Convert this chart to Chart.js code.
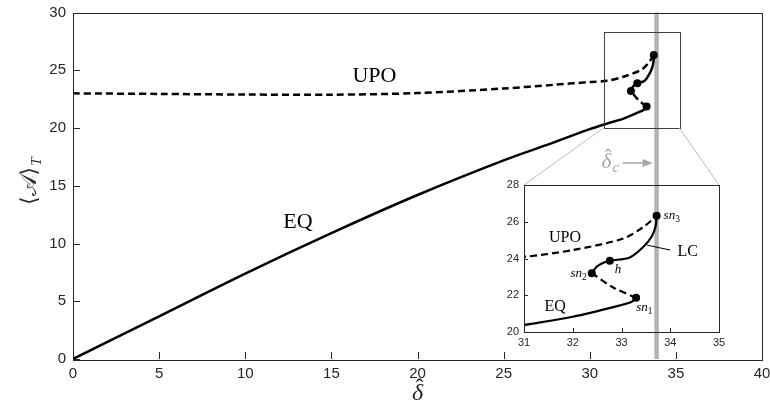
<!DOCTYPE html>
<html><head><meta charset="utf-8">
<script src="https://cdn.jsdelivr.net/npm/chart.js@4/dist/chart.umd.min.js"></script>
<style>
html,body{margin:0;padding:0;background:#fff;}
#wrap{position:relative;width:770px;height:411px;background:#fff;}
#main{position:absolute;left:0;top:0;width:770px;height:411px;}
#inset{position:absolute;left:480px;top:170px;width:260px;height:190px;z-index:2;}
</style></head><body>
<div id="wrap"><canvas id="main" width="770" height="411"></canvas><canvas id="inset" width="260" height="190"></canvas></div>
<script>
// ---------- data ----------
const eqStableX   = [0, 5, 10, 15, 20, 25, 28, 30, 31, 32, 33, 33.21, 33.30];
const eqStableY   = [0, 3.7, 7.4, 10.9, 14.2, 17.2, 18.8, 19.9, 20.38, 20.83, 21.47, 21.65, 21.86];
const eqUnstableX = [33.30, 32.83, 32.39];
const eqUnstableY = [21.86, 22.42, 23.2];
const lcX  = [32.39, 32.49, 32.63, 32.76, 33.17, 33.45, 33.62, 33.70, 33.72];
const lcY  = [23.2, 23.55, 23.77, 23.88, 24.06, 24.64, 25.2, 25.75, 26.32];
const upoX = [0, 5, 10, 15, 20, 25, 28, 30, 31, 32, 33.04, 33.45, 33.72];
const upoY = [23.0, 22.95, 22.9, 22.88, 23.02, 23.42, 23.75, 23.98, 24.09, 24.46, 25.09, 25.72, 26.32];
const bifNames = ['sn1', 'sn2', 'h', 'sn3'];
const bifX = [33.30, 32.39, 32.76, 33.72];
const bifY = [21.86, 23.2, 23.88, 26.32];
const deltaC = 33.72;
const mainXTicks = [0, 40, 5];   // min, max, step
const mainYTicks = [0, 30, 5];
const insetXTicks = [31, 35, 1];
const insetYTicks = [20, 28, 2];
const zoomWinX = [30.8, 35.2];
const zoomWinY = [20, 28.3];

// ---------- helpers ----------
const AX = '#262626';
const SANS = '"Liberation Sans", Arial, Helvetica, sans-serif';
const SERIF = '"Liberation Serif", "DejaVu Serif", "Times New Roman", serif';
const pts = (xs, ys) => xs.map((x, i) => ({x: x, y: ys[i]}));
function lineDs(xs, ys, dashed, w) {
  return {data: pts(xs, ys), showLine: true, borderColor: '#000', borderWidth: w,
    borderDash: dashed ? [7, 4] : [], pointRadius: 0, tension: 0.3, fill: false,
    borderCapStyle: 'butt'};
}
function dotDs(r) {
  return {data: pts(bifX, bifY), showLine: false, pointRadius: r, pointBackgroundColor: '#000',
    pointBorderColor: '#000', pointBorderWidth: 0};
}
function scaleCfg(t, size, pad, fit) {
  return {type: 'linear', min: t[0], max: t[1],
    ticks: {stepSize: t[2], color: AX, font: {family: SANS, size: size}, padding: pad, maxRotation: 0, autoSkip: false},
    grid: {display: false, drawTicks: false}, border: {display: false}, afterFit: fit};
}
function drawFrame(chart, len) {
  const c = chart.ctx, a = chart.chartArea;
  c.save();
  c.strokeStyle = AX; c.lineWidth = 1;
  c.strokeRect(Math.round(a.left) + 0.5, Math.round(a.top) + 0.5, Math.round(a.right - a.left), Math.round(a.bottom - a.top));
  c.beginPath();
  chart.scales.x.ticks.forEach(t => {
    const p = Math.round(chart.scales.x.getPixelForValue(t.value)) + 0.5;
    c.moveTo(p, a.bottom); c.lineTo(p, a.bottom - len);
  });
  chart.scales.y.ticks.forEach(t => {
    const p = Math.round(chart.scales.y.getPixelForValue(t.value)) + 0.5;
    c.moveTo(a.left, p); c.lineTo(a.left + len, p);
  });
  c.stroke();
  c.restore();
}
// delta with a hat drawn above it
function deltaHat(c, x, y, size) {
  c.font = 'italic ' + size + 'px ' + SERIF;
  c.textAlign = 'left';
  c.textBaseline = 'alphabetic';
  const w = c.measureText('\u03B4').width;
  c.fillText('\u03B4', x, y);
  c.font = size + 'px ' + SERIF;
  const hw = c.measureText('\u02C6').width;
  c.fillText('\u02C6', x + w / 2 - hw / 2 + size * 0.08, y - size * 0.2);
  return w;
}
function snLabel(c, base, sub, x, y, size, align) {
  c.save();
  c.fillStyle = '#000';
  c.textBaseline = 'middle';
  const f1 = 'italic ' + size + 'px ' + SERIF, f2 = (size * 0.72) + 'px ' + SERIF;
  c.font = f1; const w1 = c.measureText(base).width;
  c.font = f2; const w2 = sub ? c.measureText(sub).width : 0;
  let x0 = align === 'right' ? x - w1 - w2 : x;
  c.font = f1; c.fillText(base, x0, y);
  if (sub) { c.font = f2; c.fillText(sub, x0 + w1, y + size * 0.3); }
  c.restore();
}
const noPadX = h => s => { s.height = h; s.paddingLeft = 0; s.paddingRight = 0; };
const noPadY = w => s => { s.width = w; s.paddingTop = 0; s.paddingBottom = 0; };

// ---------- inset ----------
const insetDeco = {
  id: 'insetDeco',
  afterDraw(chart) {
    drawFrame(chart, 4);
    const c = chart.ctx, sx = chart.scales.x, sy = chart.scales.y;
    c.save();
    c.fillStyle = '#000';
    c.font = '16px ' + SERIF; c.textAlign = 'center'; c.textBaseline = 'middle';
    c.fillText('UPO', sx.getPixelForValue(31.84), sy.getPixelForValue(25.1));
    c.fillText('EQ', sx.getPixelForValue(31.64), sy.getPixelForValue(21.36));
    c.fillText('LC', sx.getPixelForValue(34.36), sy.getPixelForValue(24.35));
    c.strokeStyle = '#000'; c.lineWidth = 1;
    c.beginPath();
    c.moveTo(sx.getPixelForValue(33.52), sy.getPixelForValue(24.73));
    c.lineTo(sx.getPixelForValue(34.0), sy.getPixelForValue(24.46));
    c.stroke();
    c.restore();
    const P = i => [sx.getPixelForValue(bifX[i]), sy.getPixelForValue(bifY[i])];
    let p;
    p = P(0); snLabel(c, 'sn', '1', p[0], p[1] + 10, 13, 'left');
    p = P(1); snLabel(c, 'sn', '2', p[0] - 5, p[1], 13, 'right');
    p = P(2); snLabel(c, 'h', '', p[0] + 5, p[1] + 9, 13, 'left');
    p = P(3); snLabel(c, 'sn', '3', p[0] + 7, p[1], 13, 'left');
  }
};
const insetChart = new Chart(document.getElementById('inset'), {
  type: 'scatter',
  data: {datasets: [
    lineDs(eqStableX, eqStableY, false, 2.2),
    lineDs(eqUnstableX, eqUnstableY, true, 2.2),
    lineDs(lcX, lcY, false, 2.2),
    lineDs(upoX, upoY, true, 2.2),
    dotDs(4)
  ]},
  options: {
    responsive: false, animation: false, events: [],
    layout: {padding: {left: 0, top: 15, right: 21, bottom: 0}},
    plugins: {legend: {display: false}, tooltip: {enabled: false}},
    scales: {
      x: scaleCfg(insetXTicks, 11, 4, noPadX(28)),
      y: scaleCfg(insetYTicks, 11, 5, noPadY(44))
    }
  },
  plugins: [insetDeco]
});

// ---------- main ----------
const INSET_LEFT = 480, INSET_TOP = 170;
const mainDeco = {
  id: 'mainDeco',
  beforeDatasetsDraw(chart) {
    const c = chart.ctx, a = chart.chartArea;
    const gx = INSET_LEFT + insetChart.scales.x.getPixelForValue(deltaC);
    c.save();
    c.strokeStyle = '#b3b3b3'; c.lineWidth = 4.5;
    c.beginPath(); c.moveTo(gx, a.top); c.lineTo(gx, a.bottom); c.stroke();
    c.restore();
  },
  afterDraw(chart) {
    drawFrame(chart, 7);
    const c = chart.ctx, a = chart.chartArea, sx = chart.scales.x, sy = chart.scales.y;
    const ia = insetChart.chartArea;
    const gx = INSET_LEFT + insetChart.scales.x.getPixelForValue(deltaC);
    c.save();
    // zoom window
    const rx0 = sx.getPixelForValue(zoomWinX[0]), rx1 = sx.getPixelForValue(zoomWinX[1]);
    const ry0 = sy.getPixelForValue(zoomWinY[0]), ry1 = sy.getPixelForValue(zoomWinY[1]);
    c.strokeStyle = '#404040'; c.lineWidth = 1;
    c.strokeRect(Math.round(rx0) + 0.5, Math.round(ry1) + 0.5, Math.round(rx1 - rx0), Math.round(ry0 - ry1));
    // connectors
    c.strokeStyle = '#bdbdbd'; c.lineWidth = 1;
    c.beginPath();
    c.moveTo(rx0, ry0); c.lineTo(INSET_LEFT + ia.left, INSET_TOP + ia.top);
    c.moveTo(rx1, ry0); c.lineTo(INSET_LEFT + ia.right, INSET_TOP + ia.top);
    c.stroke();
    // delta_c label + arrow
    const ay = INSET_TOP + ia.top - 22;
    c.strokeStyle = '#a6a6a6'; c.fillStyle = '#a6a6a6'; c.lineWidth = 1.5;
    c.beginPath(); c.moveTo(gx - 34, ay); c.lineTo(gx - 10, ay); c.stroke();
    c.beginPath(); c.moveTo(gx - 4, ay); c.lineTo(gx - 14, ay - 4); c.lineTo(gx - 14, ay + 4); c.closePath(); c.fill();
    const dw = deltaHat(c, gx - 55, ay + 5, 21);
    c.font = 'italic 15px ' + SERIF;
    c.fillText('c', gx - 55 + dw + 1, ay + 9);
    // curve labels
    c.fillStyle = '#000'; c.textAlign = 'center'; c.textBaseline = 'middle';
    c.font = '22px ' + SERIF;
    c.fillText('UPO', sx.getPixelForValue(17.5), sy.getPixelForValue(24.5));
    c.fillText('EQ', sx.getPixelForValue(13.06), sy.getPixelForValue(11.86));
    // axis titles
    c.fillStyle = AX;
    c.font = 'italic 24px ' + SERIF;
    const xw = c.measureText('\u03B4').width;
    deltaHat(c, (a.left + a.right) / 2 - xw / 2, 400, 24);
    c.translate(30, (a.top + a.bottom) / 2);
    c.rotate(-Math.PI / 2);
    c.textAlign = 'left'; c.textBaseline = 'middle';
    c.font = '22px ' + SERIF;
    const s1 = '\u27E8\uD835\uDC9C\u27E9';
    const w1 = c.measureText(s1).width;
    c.font = 'italic 15px ' + SERIF;
    const w2 = c.measureText('T').width;
    const x0 = -(w1 + w2) / 2 + 4;
    c.font = '22px ' + SERIF;
    c.fillText(s1, x0, 0);
    c.font = 'italic 15px ' + SERIF;
    c.fillText('T', x0 + w1 + 1, 7);
    c.restore();
  }
};
const mainChart = new Chart(document.getElementById('main'), {
  type: 'scatter',
  data: {datasets: [
    lineDs(eqStableX, eqStableY, false, 2.5),
    lineDs(eqUnstableX, eqUnstableY, true, 2.5),
    lineDs(lcX, lcY, false, 2.5),
    lineDs(upoX, upoY, true, 2.5),
    dotDs(4)
  ]},
  options: {
    responsive: false, animation: false, events: [],
    layout: {padding: {left: 0, top: 12.5, right: 8, bottom: 0}},
    plugins: {legend: {display: false}, tooltip: {enabled: false}},
    scales: {
      x: scaleCfg(mainXTicks, 15, 6, noPadX(52)),
      y: scaleCfg(mainYTicks, 15, 7, noPadY(73))
    }
  },
  plugins: [mainDeco]
});
</script>
</body></html>
